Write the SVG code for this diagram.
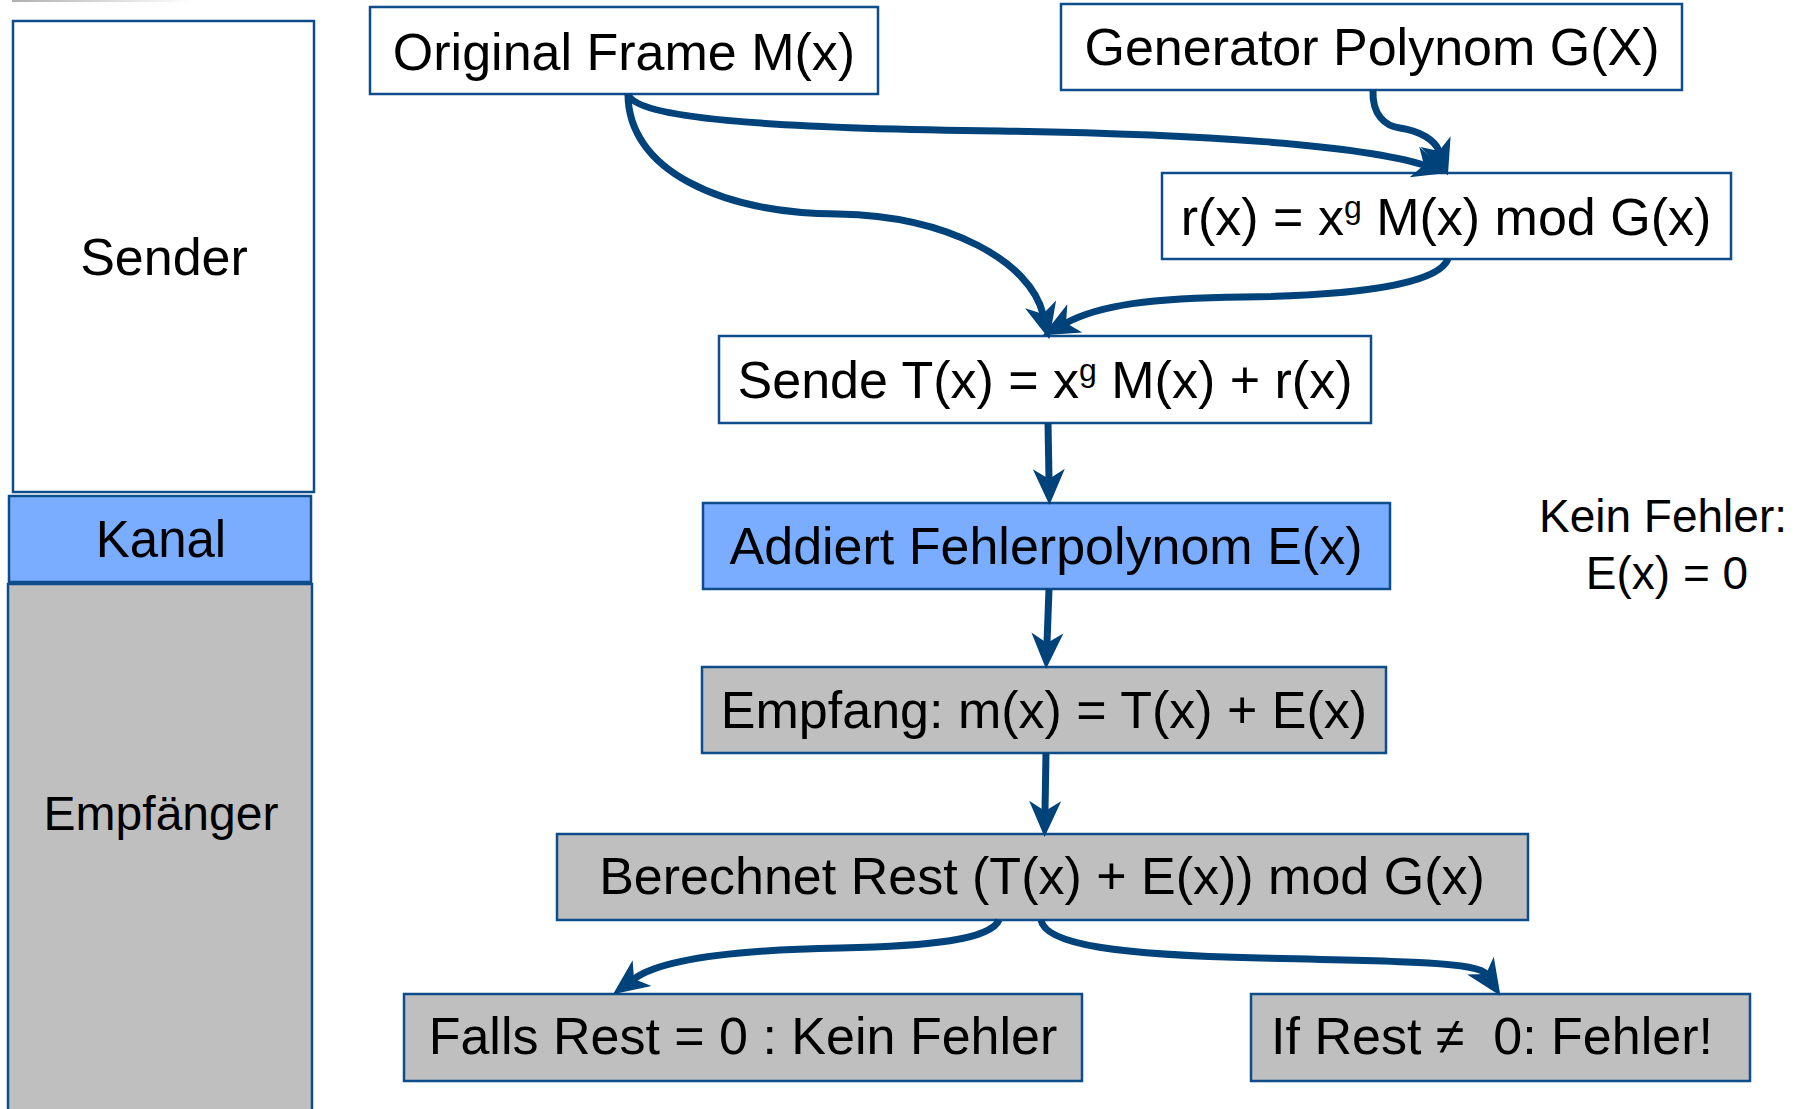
<svg xmlns="http://www.w3.org/2000/svg" width="1800" height="1109" viewBox="0 0 1800 1109">
<defs>
<linearGradient id="topbar" x1="0" y1="0" x2="1" y2="0">
<stop offset="0" stop-color="#b0b0b0"/>
<stop offset="1" stop-color="#ffffff"/>
</linearGradient>
<marker id="ah" markerUnits="userSpaceOnUse" markerWidth="44" markerHeight="38" viewBox="-13 -19 44 38" refX="0" refY="0" orient="auto">
<path d="M26,0 L-10,-16 L0,0 L-10,16 Z" fill="#00427A"/>
</marker>
</defs>
<style>
.box{stroke:#0E4C8A;stroke-width:2.5}
.w{fill:#ffffff}
.b{fill:#7AADFF}
.g{fill:#BFBFBF}
.t{font-family:"Liberation Sans",Arial,Helvetica,sans-serif;font-size:52px;fill:#000;text-anchor:middle}
.c{fill:none;stroke:#00427A;stroke-width:7;marker-end:url(#ah)}
</style>
<rect width="1800" height="1109" fill="#ffffff"/>
<rect x="12" y="0" width="180" height="2" fill="url(#topbar)"/>

<g id="lane-sender"><rect class="box w" x="13" y="21" width="301" height="471"/><text class="t" x="164" y="275">Sender</text></g>
<g id="lane-kanal"><rect class="box b" x="9" y="496" width="302" height="86"/><text class="t" x="161" y="557" style="font-size:51px">Kanal</text></g>
<g id="lane-empfaenger"><rect class="box g" x="8" y="584" width="304" height="540"/><text class="t" x="161" y="830" style="font-size:48px">Empfänger</text></g>

<g id="original"><rect class="box w" x="370" y="7" width="508" height="87"/><text class="t" x="624" y="70">Original Frame M(x)</text></g>
<g id="generator"><rect class="box w" x="1061" y="4" width="621" height="86"/><text class="t" x="1372" y="65">Generator Polynom G(X)</text></g>
<g id="rest"><rect class="box w" x="1162" y="173" width="569" height="86"/><text class="t" x="1446" y="235">r(x) = x<tspan font-size="32" dy="-17">g</tspan><tspan dy="17"> M(x) mod G(x)</tspan></text></g>
<g id="sende"><rect class="box w" x="719" y="336" width="652" height="87"/><text class="t" x="1045" y="398">Sende T(x) = x<tspan font-size="32" dy="-17">g</tspan><tspan dy="17"> M(x) + r(x)</tspan></text></g>
<g id="addiert"><rect class="box b" x="703" y="503" width="687" height="86"/><text class="t" x="1046" y="564">Addiert Fehlerpolynom E(x)</text></g>
<g id="empfang"><rect class="box g" x="702" y="667" width="684" height="86"/><text class="t" x="1044" y="728">Empfang: m(x) = T(x) + E(x)</text></g>
<g id="berechnet"><rect class="box g" x="557" y="834" width="971" height="86"/><text class="t" x="1042" y="894">Berechnet Rest (T(x) + E(x)) mod G(x)</text></g>
<g id="falls"><rect class="box g" x="404" y="994" width="678" height="87"/><text class="t" x="743" y="1054">Falls Rest = 0 : Kein Fehler</text></g>
<g id="ifrest"><rect class="box g" x="1251" y="994" width="499" height="87"/><text class="t" x="1492" y="1054">If Rest ≠&#160; 0: Fehler!</text></g>
<g id="note"><text class="t" x="1663" y="532" style="font-size:46px">Kein Fehler:</text><text class="t" x="1667" y="589" style="font-size:46px">E(x) = 0</text></g>

<g id="connectors">
<path class="c" d="M628,94 C636,118 760,128 1000,131 C1200,134 1360,145 1424,165"/>
<path class="c" d="M1373,90 C1372,115 1385,126 1400,128 C1420,131 1435,140 1439,151"/>
<path class="c" d="M628,94 C628,170 720,213 838,214 C950,216 1030,262 1043,314"/>
<path class="c" d="M1448,259 C1440,280 1380,295 1244,297 C1150,298 1100,305 1066,323"/>
<path class="c" d="M1048,423 L1049,479"/>
<path class="c" d="M1049,589 L1047,643"/>
<path class="c" d="M1046,753 L1045,811"/>
<path class="c" d="M999,920 C990,940 930,946 840,948 C730,950 660,960 634,979"/>
<path class="c" d="M1041,920 C1045,945 1120,955 1260,958 C1400,961 1478,962 1486,974"/>
</g>
</svg>
